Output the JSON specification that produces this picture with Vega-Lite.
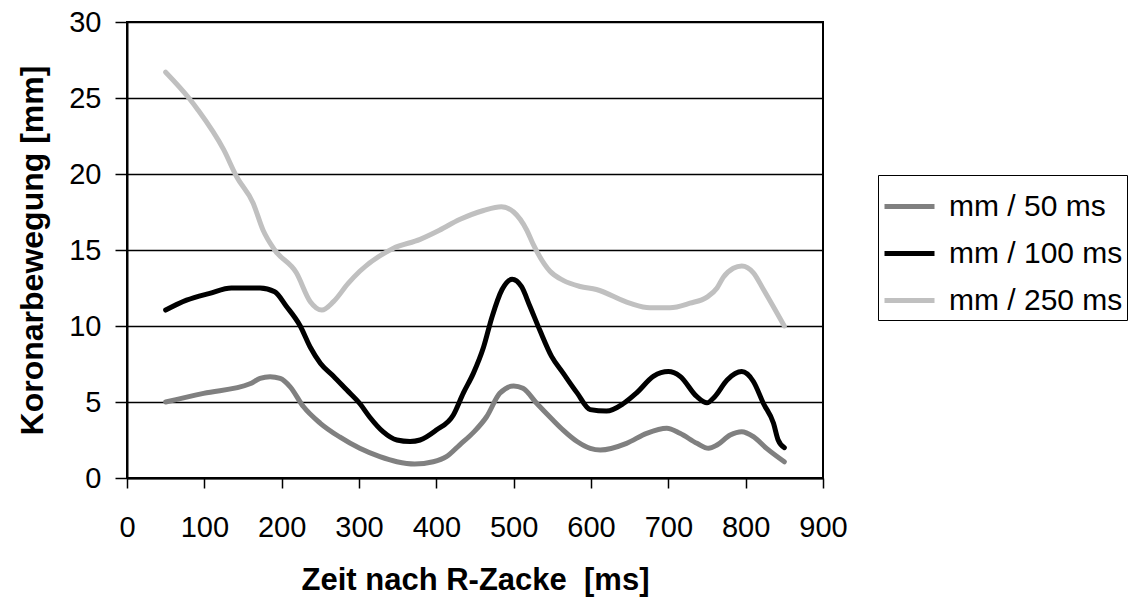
{
  "$schema": "https://vega.github.io/schema/vega-lite/v6.json",
  "autosize": "none",
  "width": 696,
  "height": 456,
  "padding": {"left": 127, "top": 22, "right": 312, "bottom": 119},
  "background": "white",
  "config": {
    "font": "Liberation Sans",
    "view": {"stroke": "black", "strokeWidth": 2},
    "axis": {
      "labelFont": "Liberation Sans",
      "titleFont": "Liberation Sans",
      "labelFontSize": 29,
      "titleFontSize": 31,
      "titleFontWeight": "bold",
      "labelColor": "black",
      "titleColor": "black",
      "domainColor": "black",
      "domainWidth": 2,
      "tickColor": "black",
      "tickWidth": 1.5,
      "labelFlush": false
    },
    "legend": {
      "labelFont": "Liberation Sans",
      "labelFontSize": 30,
      "labelColor": "black"
    }
  },
  "data": {
    "values": [
      {"t": 50, "v": 5.0, "s": "mm / 50 ms"},
      {"t": 99, "v": 5.57, "s": "mm / 50 ms"},
      {"t": 159, "v": 6.2, "s": "mm / 50 ms"},
      {"t": 172, "v": 6.55, "s": "mm / 50 ms"},
      {"t": 185, "v": 6.66, "s": "mm / 50 ms"},
      {"t": 198, "v": 6.55, "s": "mm / 50 ms"},
      {"t": 211, "v": 6.0, "s": "mm / 50 ms"},
      {"t": 228, "v": 4.7, "s": "mm / 50 ms"},
      {"t": 250, "v": 3.6, "s": "mm / 50 ms"},
      {"t": 275, "v": 2.7, "s": "mm / 50 ms"},
      {"t": 301, "v": 1.95, "s": "mm / 50 ms"},
      {"t": 327, "v": 1.4, "s": "mm / 50 ms"},
      {"t": 349, "v": 1.07, "s": "mm / 50 ms"},
      {"t": 372, "v": 0.92, "s": "mm / 50 ms"},
      {"t": 396, "v": 1.07, "s": "mm / 50 ms"},
      {"t": 413, "v": 1.4, "s": "mm / 50 ms"},
      {"t": 430, "v": 2.17, "s": "mm / 50 ms"},
      {"t": 448, "v": 3.0, "s": "mm / 50 ms"},
      {"t": 465, "v": 4.03, "s": "mm / 50 ms"},
      {"t": 482, "v": 5.57, "s": "mm / 50 ms"},
      {"t": 500, "v": 6.05, "s": "mm / 50 ms"},
      {"t": 512, "v": 5.9, "s": "mm / 50 ms"},
      {"t": 530, "v": 4.9, "s": "mm / 50 ms"},
      {"t": 551, "v": 3.8, "s": "mm / 50 ms"},
      {"t": 564, "v": 3.15, "s": "mm / 50 ms"},
      {"t": 582, "v": 2.4, "s": "mm / 50 ms"},
      {"t": 599, "v": 1.95, "s": "mm / 50 ms"},
      {"t": 612, "v": 1.84, "s": "mm / 50 ms"},
      {"t": 646, "v": 2.28, "s": "mm / 50 ms"},
      {"t": 672, "v": 2.94, "s": "mm / 50 ms"},
      {"t": 698, "v": 3.27, "s": "mm / 50 ms"},
      {"t": 715, "v": 2.94, "s": "mm / 50 ms"},
      {"t": 737, "v": 2.28, "s": "mm / 50 ms"},
      {"t": 752, "v": 1.95, "s": "mm / 50 ms"},
      {"t": 763, "v": 2.17, "s": "mm / 50 ms"},
      {"t": 780, "v": 2.83, "s": "mm / 50 ms"},
      {"t": 795, "v": 3.05, "s": "mm / 50 ms"},
      {"t": 810, "v": 2.72, "s": "mm / 50 ms"},
      {"t": 827, "v": 1.95, "s": "mm / 50 ms"},
      {"t": 850, "v": 1.07, "s": "mm / 50 ms"},

      {"t": 50, "v": 11.05, "s": "mm / 100 ms"},
      {"t": 77, "v": 11.7, "s": "mm / 100 ms"},
      {"t": 107, "v": 12.15, "s": "mm / 100 ms"},
      {"t": 135, "v": 12.5, "s": "mm / 100 ms"},
      {"t": 172, "v": 12.5, "s": "mm / 100 ms"},
      {"t": 191, "v": 12.25, "s": "mm / 100 ms"},
      {"t": 206, "v": 11.3, "s": "mm / 100 ms"},
      {"t": 224, "v": 10.0, "s": "mm / 100 ms"},
      {"t": 237, "v": 8.6, "s": "mm / 100 ms"},
      {"t": 250, "v": 7.55, "s": "mm / 100 ms"},
      {"t": 267, "v": 6.7, "s": "mm / 100 ms"},
      {"t": 284, "v": 5.8, "s": "mm / 100 ms"},
      {"t": 301, "v": 4.9, "s": "mm / 100 ms"},
      {"t": 314, "v": 4.0, "s": "mm / 100 ms"},
      {"t": 331, "v": 3.05, "s": "mm / 100 ms"},
      {"t": 349, "v": 2.5, "s": "mm / 100 ms"},
      {"t": 366, "v": 2.4, "s": "mm / 100 ms"},
      {"t": 379, "v": 2.5, "s": "mm / 100 ms"},
      {"t": 400, "v": 3.15, "s": "mm / 100 ms"},
      {"t": 422, "v": 4.15, "s": "mm / 100 ms"},
      {"t": 435, "v": 5.6, "s": "mm / 100 ms"},
      {"t": 448, "v": 6.9, "s": "mm / 100 ms"},
      {"t": 461, "v": 8.6, "s": "mm / 100 ms"},
      {"t": 472, "v": 10.6, "s": "mm / 100 ms"},
      {"t": 485, "v": 12.4, "s": "mm / 100 ms"},
      {"t": 498, "v": 13.07, "s": "mm / 100 ms"},
      {"t": 510, "v": 12.6, "s": "mm / 100 ms"},
      {"t": 521, "v": 11.3, "s": "mm / 100 ms"},
      {"t": 534, "v": 9.7, "s": "mm / 100 ms"},
      {"t": 549, "v": 8.0, "s": "mm / 100 ms"},
      {"t": 564, "v": 6.9, "s": "mm / 100 ms"},
      {"t": 582, "v": 5.6, "s": "mm / 100 ms"},
      {"t": 599, "v": 4.5, "s": "mm / 100 ms"},
      {"t": 620, "v": 4.4, "s": "mm / 100 ms"},
      {"t": 642, "v": 4.9, "s": "mm / 100 ms"},
      {"t": 659, "v": 5.6, "s": "mm / 100 ms"},
      {"t": 681, "v": 6.7, "s": "mm / 100 ms"},
      {"t": 700, "v": 7.0, "s": "mm / 100 ms"},
      {"t": 715, "v": 6.7, "s": "mm / 100 ms"},
      {"t": 737, "v": 5.35, "s": "mm / 100 ms"},
      {"t": 750, "v": 4.95, "s": "mm / 100 ms"},
      {"t": 760, "v": 5.35, "s": "mm / 100 ms"},
      {"t": 776, "v": 6.45, "s": "mm / 100 ms"},
      {"t": 795, "v": 7.0, "s": "mm / 100 ms"},
      {"t": 810, "v": 6.35, "s": "mm / 100 ms"},
      {"t": 823, "v": 4.9, "s": "mm / 100 ms"},
      {"t": 836, "v": 3.6, "s": "mm / 100 ms"},
      {"t": 842, "v": 2.5, "s": "mm / 100 ms"},
      {"t": 850, "v": 2.0, "s": "mm / 100 ms"},

      {"t": 50, "v": 26.7, "s": "mm / 250 ms"},
      {"t": 80, "v": 25.0, "s": "mm / 250 ms"},
      {"t": 92, "v": 24.2, "s": "mm / 250 ms"},
      {"t": 125, "v": 21.6, "s": "mm / 250 ms"},
      {"t": 142, "v": 19.8, "s": "mm / 250 ms"},
      {"t": 163, "v": 18.1, "s": "mm / 250 ms"},
      {"t": 176, "v": 16.3, "s": "mm / 250 ms"},
      {"t": 191, "v": 15.0, "s": "mm / 250 ms"},
      {"t": 219, "v": 13.5, "s": "mm / 250 ms"},
      {"t": 237, "v": 11.6, "s": "mm / 250 ms"},
      {"t": 252, "v": 11.05, "s": "mm / 250 ms"},
      {"t": 267, "v": 11.6, "s": "mm / 250 ms"},
      {"t": 286, "v": 12.8, "s": "mm / 250 ms"},
      {"t": 301, "v": 13.6, "s": "mm / 250 ms"},
      {"t": 344, "v": 15.1, "s": "mm / 250 ms"},
      {"t": 379, "v": 15.7, "s": "mm / 250 ms"},
      {"t": 404, "v": 16.3, "s": "mm / 250 ms"},
      {"t": 430, "v": 17.0, "s": "mm / 250 ms"},
      {"t": 461, "v": 17.6, "s": "mm / 250 ms"},
      {"t": 484, "v": 17.85, "s": "mm / 250 ms"},
      {"t": 500, "v": 17.5, "s": "mm / 250 ms"},
      {"t": 517, "v": 16.3, "s": "mm / 250 ms"},
      {"t": 525, "v": 15.4, "s": "mm / 250 ms"},
      {"t": 547, "v": 13.6, "s": "mm / 250 ms"},
      {"t": 564, "v": 13.0, "s": "mm / 250 ms"},
      {"t": 586, "v": 12.6, "s": "mm / 250 ms"},
      {"t": 607, "v": 12.4, "s": "mm / 250 ms"},
      {"t": 650, "v": 11.5, "s": "mm / 250 ms"},
      {"t": 676, "v": 11.2, "s": "mm / 250 ms"},
      {"t": 702, "v": 11.2, "s": "mm / 250 ms"},
      {"t": 728, "v": 11.5, "s": "mm / 250 ms"},
      {"t": 750, "v": 11.9, "s": "mm / 250 ms"},
      {"t": 763, "v": 12.5, "s": "mm / 250 ms"},
      {"t": 771, "v": 13.2, "s": "mm / 250 ms"},
      {"t": 784, "v": 13.8, "s": "mm / 250 ms"},
      {"t": 795, "v": 13.95, "s": "mm / 250 ms"},
      {"t": 810, "v": 13.5, "s": "mm / 250 ms"},
      {"t": 823, "v": 12.4, "s": "mm / 250 ms"},
      {"t": 850, "v": 10.0, "s": "mm / 250 ms"}
    ]
  },
  "mark": {"type": "line", "strokeWidth": 5, "strokeCap": "round", "strokeJoin": "round", "interpolate": "monotone"},
  "encoding": {
    "x": {
      "field": "t",
      "type": "quantitative",
      "scale": {"domain": [0, 900], "nice": false},
      "axis": {
        "values": [0, 100, 200, 300, 400, 500, 600, 700, 800, 900],
        "grid": false,
        "title": "Zeit nach R-Zacke \u00a0[ms]",
        "tickSize": 10,
        "labelPadding": 25,
        "titlePadding": 23
      }
    },
    "y": {
      "field": "v",
      "type": "quantitative",
      "scale": {"domain": [0, 30], "nice": false},
      "axis": {
        "values": [0, 5, 10, 15, 20, 25, 30],
        "grid": true,
        "gridColor": "black",
        "gridWidth": 1.5,
        "gridOpacity": 1,
        "title": "Koronarbewegung [mm]",
        "titleFontSize": 32,
        "tickSize": 12,
        "labelPadding": 14,
        "titlePadding": 19
      }
    },
    "color": {
      "field": "s",
      "type": "nominal",
      "scale": {
        "domain": ["mm / 50 ms", "mm / 100 ms", "mm / 250 ms"],
        "range": ["#808080", "#000000", "#c0c0c0"]
      },
      "legend": {
        "title": null,
        "orient": "none",
        "legendX": 751,
        "legendY": 153,
        "symbolType": "stroke",
        "symbolSize": 2500,
        "symbolStrokeWidth": 5,
        "labelOffset": 12,
        "rowPadding": 4,
        "padding": 4,
        "strokeColor": "black",
        "fillColor": "white",
        "labelLimit": 400
      }
    }
  }
}
